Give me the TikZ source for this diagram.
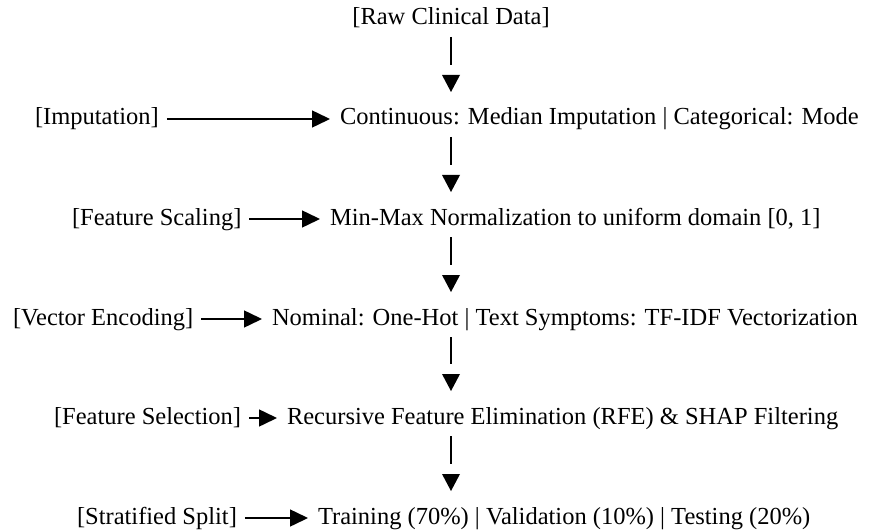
\documentclass[tikz,border=0pt]{standalone}
\usepackage{fontspec}
\setmainfont{Liberation Serif}
\usetikzlibrary{arrows.meta,calc}
\begin{document}
\begin{tikzpicture}[x=1pt,y=1pt,
  txt/.style={inner sep=0pt, outer sep=0pt, text height=17pt, text depth=5pt,
    font=\fontsize{24.5pt}{29pt}\selectfont},
  hconn/.style={line width=1.5pt, shorten <=8pt, shorten >=10pt,
    -{Triangle[length=18pt,width=17pt]}},
  stem/.style={line width=1.5pt, shorten <=7pt, shorten >=43pt},
  tipfill/.style={fill=black}]
\useasboundingbox (0,0) rectangle (893,531);
\coordinate (col) at (451,0);
% row 0
\node[txt, anchor=base] (r0) at (451,506) {[Raw Clinical Data]};
% row 1
\node[txt, anchor=base west] (l1) at (35,406) {[Imputation]};
\node[txt, anchor=base west] (d1) at (340,406) {Continuous: Median Imputation | Categorical: Mode};
% row 2
\node[txt, anchor=base west] (l2) at (72,306) {[Feature Scaling]};
\node[txt, anchor=base west] (d2) at (330,306) {Min-Max Normalization to uniform domain [0, 1]};
% row 3
\node[txt, anchor=base west] (l3) at (13,206) {[Vector Encoding]};
\node[txt, anchor=base west] (d3) at (272,206) {Nominal: One-Hot | Text Symptoms: TF-IDF Vectorization};
% row 4
\node[txt, anchor=base west] (l4) at (54,107) {[Feature Selection]};
\node[txt, anchor=base west] (d4) at (287,107) {Recursive Feature Elimination (RFE) \& SHAP Filtering};
% row 5
\node[txt, anchor=base west] (l5) at (77,7) {[Stratified Split]};
\node[txt, anchor=base west] (d5) at (318,7) {Training (70\%) | Validation (10\%) | Testing (20\%)};
% horizontal connectors
\draw[hconn] (l1) -- (d1);
\draw[hconn] (l2) -- (d2);
\draw[hconn] (l3) -- (d3);
\draw[hconn] (l4) -- (d4);
\draw[hconn] (l5) -- (d5);
% vertical connectors
\foreach \a/\b in {r0/d1, d1/d2, d2/d3, d3/d4, d4/d5}{
  \draw[stem] (\a.south -| col) -- (\b.north -| col);
  \fill[tipfill] ($(\b.north -| col)+(0,16)$) -- ++(-9,17) -- ++(18,0) -- cycle;
}
\end{tikzpicture}
\end{document}
